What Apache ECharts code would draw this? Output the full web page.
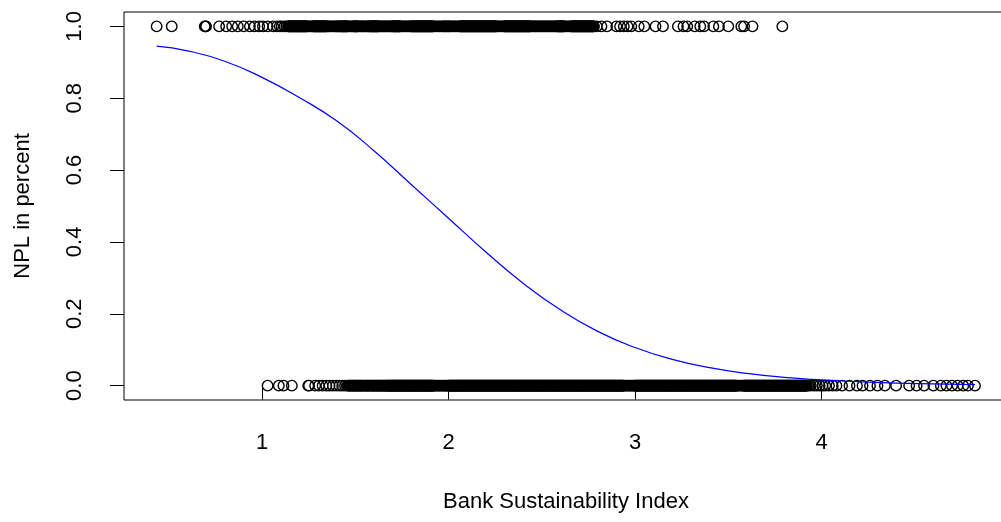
<!DOCTYPE html>
<html>
<head>
<meta charset="utf-8">
<script src="https://cdn.jsdelivr.net/npm/echarts@6/dist/echarts.min.js"></script>
<style>
html,body{margin:0;padding:0;background:#fff;overflow:hidden;}
#chart{width:1001px;height:522px;}
</style>
</head>
<body>
<div id="chart"></div>
<script>
// Bank Sustainability Index values of observations with NPL = 1
var bsiNpl1 = [
0.435,0.516,0.693,0.697,0.700,0.770,0.808,0.840,0.870,0.902,0.935,0.960,0.985,1.005,1.030,1.060,1.080,1.095,1.105,1.120,1.130,
1.140,1.146,1.151,1.157,1.163,1.168,1.174,1.180,1.185,1.191,1.197,1.202,1.208,1.214,1.219,1.225,1.231,1.236,
1.248,1.262,
1.274,1.280,1.285,1.291,1.297,1.302,1.308,1.314,1.319,1.325,1.331,1.336,1.342,
1.355,1.368,1.376,1.390,1.402,1.410,1.418,
1.424,1.430,1.435,1.441,1.447,1.452,
1.465,1.478,
1.490,1.496,1.502,1.508,
1.520,1.533,1.541,1.555,1.566,1.574,
1.582,1.588,1.593,1.599,1.605,1.610,1.616,1.622,
1.635,1.648,1.657,1.670,1.682,1.693,
1.702,1.708,1.713,1.719,1.725,1.731,1.736,
1.748,1.762,1.775,1.789,
1.800,1.806,1.811,1.817,1.823,1.828,1.834,1.840,1.845,1.851,1.857,1.862,1.868,1.874,1.879,1.885,1.891,1.896,1.902,1.908,1.913,
1.928,1.945,1.962,1.975,1.985,1.996,2.005,2.018,2.032,2.047,
2.060,2.066,2.071,2.077,2.083,2.088,2.094,2.100,2.105,2.111,2.117,2.122,2.128,2.134,2.139,2.145,2.151,2.156,2.162,2.168,2.173,2.179,2.185,2.190,2.196,2.202,2.207,2.213,2.219,2.224,2.230,2.236,2.241,2.247,2.253,
2.268,2.284,
2.298,2.304,2.309,2.315,2.321,2.326,2.332,2.338,2.343,2.349,2.355,2.360,2.366,2.372,2.377,2.383,2.389,2.394,2.400,2.406,2.411,2.417,2.423,2.428,2.434,
2.447,2.460,2.470,2.483,2.495,2.507,2.520,2.532,2.545,2.556,2.568,
2.580,2.586,2.591,2.597,2.603,2.608,2.614,
2.628,2.645,
2.658,2.664,2.669,2.675,2.681,2.686,2.692,2.698,2.703,2.709,2.715,2.720,2.726,2.732,2.737,2.743,2.749,2.754,2.760,2.766,2.771,2.777,
2.795,2.820,2.850,2.900,2.920,2.940,2.960,2.980,3.020,3.050,3.110,3.150,3.230,3.260,3.280,3.320,3.350,3.370,3.420,3.450,3.500,3.570,3.585,3.630,3.790
];
// further NPL = 1 observations packed inside the solid black stretches
var bsiNpl1Dense = [
1.143,1.149,1.154,1.160,1.166,1.171,1.177,1.183,1.188,1.194,1.200,1.205,1.211,1.217,1.222,1.228,1.234,1.239,
1.242,1.255,1.268,
1.277,1.283,1.288,1.294,1.300,1.305,1.311,1.317,1.322,1.328,1.334,1.339,1.345,
1.349,1.361,1.383,1.396,1.406,1.414,
1.427,1.433,1.438,1.444,1.450,1.455,
1.458,1.471,1.484,
1.493,1.499,1.505,1.511,
1.514,1.527,1.537,1.548,1.560,1.570,1.578,
1.585,1.591,1.596,1.602,1.608,1.613,1.619,1.625,
1.629,1.641,1.652,1.663,1.676,1.688,1.697,
1.705,1.711,1.716,1.722,1.728,1.734,1.739,
1.742,1.755,1.768,1.782,1.795,
1.803,1.809,1.814,1.820,1.826,1.831,1.837,1.843,1.848,1.854,1.860,1.865,1.871,1.877,1.882,1.888,1.894,1.899,1.905,1.911,1.916,
1.920,1.936,1.953,1.968,1.980,1.990,2.000,2.011,2.025,2.039,2.054,
2.063,2.069,2.074,2.080,2.086,2.091,2.097,2.103,2.108,2.114,2.120,2.125,2.131,2.137,2.142,2.148,2.154,2.159,2.165,2.171,2.176,2.182,2.188,2.193,2.199,2.205,2.210,2.216,2.222,2.227,2.233,2.239,2.244,2.250,2.256,
2.261,2.276,2.291,
2.301,2.307,2.312,2.318,2.324,2.329,2.335,2.341,2.346,2.352,2.358,2.363,2.369,2.375,2.380,2.386,2.392,2.397,2.403,2.409,2.414,2.420,2.426,2.431,2.437,
2.440,2.453,2.465,2.476,2.489,2.501,2.513,2.526,2.538,2.550,2.562,2.574,
2.583,2.589,2.594,2.600,2.606,2.611,2.617,
2.621,2.636,2.652,
2.661,2.667,2.672,2.678,2.684,2.689,2.695,2.701,2.706,2.712,2.718,2.723,2.729,2.735,2.740,2.746,2.752,2.757,2.763,2.769,2.774,2.780
];

// Bank Sustainability Index values of observations with NPL = 0
var bsiNpl0 = [
1.030,1.090,1.115,1.160,1.248,1.252,1.285,1.305,1.325,1.345,1.362,1.380,1.398,1.415,1.430,1.445,
1.458,1.468,1.476,1.487,1.495,1.503,1.514,1.522,1.531,1.540,1.552,1.560,1.569,1.578,1.590,1.598,1.606,1.615,1.624,1.633,1.642,1.650,1.658,1.666,1.674,1.681,1.687,
1.693,1.699,1.704,1.710,1.716,1.721,1.727,1.733,1.738,1.744,1.750,1.755,1.761,1.767,1.772,1.778,1.784,1.789,1.795,1.801,1.806,1.812,1.818,1.823,1.829,1.835,1.840,1.846,1.852,1.857,1.863,1.869,1.874,1.880,1.886,1.891,1.897,1.903,1.908,1.914,
1.926,1.940,1.952,1.966,1.978,1.990,
2.000,2.006,2.011,2.017,2.023,2.028,2.034,2.040,2.045,2.051,2.057,2.062,2.068,2.074,2.079,2.085,2.091,2.096,2.102,2.108,2.113,2.119,2.125,2.130,2.136,2.142,2.147,2.153,2.159,2.164,2.170,2.176,2.181,2.187,2.193,2.198,2.204,2.210,2.215,2.221,2.227,2.232,2.238,2.244,2.249,2.255,2.261,2.266,2.272,2.278,2.283,2.289,2.295,2.300,2.306,2.312,2.317,2.323,2.329,2.334,2.340,2.346,2.351,2.357,2.363,2.368,2.374,2.380,2.385,2.391,2.397,2.402,2.408,2.414,2.419,2.425,2.431,2.436,2.442,2.448,2.453,2.459,2.465,2.470,2.476,2.482,2.487,2.493,2.499,2.504,2.510,2.516,2.521,2.527,2.533,2.538,2.544,2.550,2.555,2.561,2.567,2.572,2.578,2.584,2.589,2.595,2.601,2.606,2.612,2.618,2.623,2.629,2.635,2.640,2.646,2.652,2.657,2.663,2.669,2.674,2.680,2.686,2.691,2.697,2.703,2.708,2.714,2.720,2.725,2.731,2.737,2.742,2.748,2.754,2.759,2.765,2.771,2.776,2.782,2.788,2.793,2.799,2.805,2.810,2.816,2.822,2.827,2.833,2.839,2.844,2.850,2.856,2.861,2.867,2.873,2.878,2.884,2.890,2.895,2.901,2.907,2.912,2.918,2.924,2.929,2.935,
2.950,2.965,2.978,2.992,
3.003,3.009,3.014,3.020,3.026,3.031,3.037,3.043,3.048,3.054,3.060,3.065,3.071,3.077,3.082,3.088,3.094,3.099,3.105,3.111,3.116,3.122,3.128,3.133,3.139,3.145,3.150,3.156,3.162,3.167,3.173,3.179,3.184,3.190,3.196,3.201,3.207,3.213,3.218,3.224,3.230,3.235,3.241,3.247,3.252,3.258,3.264,3.269,3.275,3.281,3.286,3.292,3.298,3.303,3.309,3.315,3.320,3.326,3.332,3.337,3.343,3.349,3.354,3.360,3.366,3.371,3.377,3.383,3.388,3.394,3.400,3.405,3.411,3.417,3.422,3.428,3.434,3.439,3.445,3.451,3.456,3.462,3.468,3.473,3.479,3.485,3.490,3.496,3.502,3.507,3.513,3.519,3.524,3.530,3.536,3.541,
3.556,3.572,
3.584,3.590,3.595,3.601,3.607,3.612,3.618,3.624,3.629,3.635,3.641,3.646,3.652,3.658,3.663,3.669,3.675,3.680,3.686,3.692,3.697,3.703,3.709,3.714,3.720,3.726,3.731,3.737,3.743,3.748,3.754,3.760,3.765,3.771,3.777,3.782,3.788,3.794,3.799,3.805,3.811,3.816,3.822,3.828,3.833,3.839,3.845,3.850,3.856,3.862,3.867,3.873,3.879,3.884,3.890,3.896,3.901,3.907,3.913,3.918,
3.930,3.942,3.960,3.975,3.990,4.005,4.020,4.040,4.060,4.080,4.110,4.150,4.190,4.220,4.260,4.300,4.340,4.400,4.470,4.510,4.550,4.600,4.640,4.670,4.700,4.730,4.760,4.785,4.823
];
// further NPL = 0 observations packed inside the solid black stretches
var bsiNpl0Dense = [
1.463,1.472,1.482,1.491,1.499,1.509,1.518,1.527,1.536,1.546,1.556,1.565,1.574,1.584,1.594,1.602,1.611,1.620,1.629,1.638,1.646,1.654,1.662,1.670,1.678,1.684,1.690,
1.696,1.702,1.707,1.713,1.719,1.724,1.730,1.736,1.741,1.747,1.753,1.758,1.764,1.770,1.775,1.781,1.787,1.792,1.798,1.804,1.809,1.815,1.821,1.826,1.832,1.838,1.843,1.849,1.855,1.860,1.866,1.872,1.877,1.883,1.889,1.894,1.900,1.906,1.911,1.917,
1.920,1.933,1.946,1.959,1.972,1.984,1.995,
2.003,2.009,2.014,2.020,2.026,2.031,2.037,2.043,2.048,2.054,2.060,2.065,2.071,2.077,2.082,2.088,2.094,2.099,2.105,2.111,2.116,2.122,2.128,2.133,2.139,2.145,2.150,2.156,2.162,2.167,2.173,2.179,2.184,2.190,2.196,2.201,2.207,2.213,2.218,2.224,2.230,2.235,2.241,2.247,2.252,2.258,2.264,2.269,2.275,2.281,2.286,2.292,2.298,2.303,2.309,2.315,2.320,2.326,2.332,2.337,2.343,2.349,2.354,2.360,2.366,2.371,2.377,2.383,2.388,2.394,2.400,2.405,2.411,2.417,2.422,2.428,2.434,2.439,2.445,2.451,2.456,2.462,2.468,2.473,2.479,2.485,2.490,2.496,2.502,2.507,2.513,2.519,2.524,2.530,2.536,2.541,2.547,2.553,2.558,2.564,2.570,2.575,2.581,2.587,2.592,2.598,2.604,2.609,2.615,2.621,2.626,2.632,2.638,2.643,2.649,2.655,2.660,2.666,2.672,2.677,2.683,2.689,2.694,2.700,2.706,2.711,2.717,2.723,2.728,2.734,2.740,2.745,2.751,2.757,2.762,2.768,2.774,2.779,2.785,2.791,2.796,2.802,2.808,2.813,2.819,2.825,2.830,2.836,2.842,2.847,2.853,2.859,2.864,2.870,2.876,2.881,2.887,2.893,2.898,2.904,2.910,2.915,2.921,2.927,2.932,2.938,
2.943,2.957,2.971,2.985,2.997,
3.006,3.012,3.017,3.023,3.029,3.034,3.040,3.046,3.051,3.057,3.063,3.068,3.074,3.080,3.085,3.091,3.097,3.102,3.108,3.114,3.119,3.125,3.131,3.136,3.142,3.148,3.153,3.159,3.165,3.170,3.176,3.182,3.187,3.193,3.199,3.204,3.210,3.216,3.221,3.227,3.233,3.238,3.244,3.250,3.255,3.261,3.267,3.272,3.278,3.284,3.289,3.295,3.301,3.306,3.312,3.318,3.323,3.329,3.335,3.340,3.346,3.352,3.357,3.363,3.369,3.374,3.380,3.386,3.391,3.397,3.403,3.408,3.414,3.420,3.425,3.431,3.437,3.442,3.448,3.454,3.459,3.465,3.471,3.476,3.482,3.488,3.493,3.499,3.505,3.510,3.516,3.522,3.527,3.533,3.539,3.544,
3.549,3.564,3.578,
3.587,3.593,3.598,3.604,3.610,3.615,3.621,3.627,3.632,3.638,3.644,3.649,3.655,3.661,3.666,3.672,3.678,3.683,3.689,3.695,3.700,3.706,3.712,3.717,3.723,3.729,3.734,3.740,3.746,3.751,3.757,3.763,3.768,3.774,3.780,3.785,3.791,3.797,3.802,3.808,3.814,3.819,3.825,3.831,3.836,3.842,3.848,3.853,3.859,3.865,3.870,3.876,3.882,3.887,3.893,3.899,3.904,3.910,3.916,3.921
];

// fitted curve
var curveX = [0.435,0.6,0.8,1.0,1.2,1.4,1.6,1.8,2.0,2.2,2.4,2.6,2.8,3.0,3.2,3.4,3.6,3.8,4.0,4.2,4.4,4.6,4.823];
var curveY = [0.945,0.932,0.903,0.858,0.802,0.737,0.654,0.560,0.466,0.372,0.285,0.211,0.151,0.106,0.073,0.050,0.034,0.023,0.016,0.011,0.007,0.005,0.003];

var xTicks = [1, 2, 3, 4];
var yTicks = [0, 0.2, 0.4, 0.6, 0.8, 1.0];

var chart = echarts.init(document.getElementById('chart'), null, {renderer: 'canvas'});
var font = 'Liberation Sans, Arial, Helvetica, sans-serif';

var pts = [];
bsiNpl1.concat(bsiNpl1Dense).forEach(function (v) { pts.push([v, 1]); });
bsiNpl0.concat(bsiNpl0Dense).forEach(function (v) { pts.push([v, 0]); });
var curve = curveX.map(function (x, i) { return [x, curveY[i]]; });

chart.setOption({
  animation: false,
  backgroundColor: '#fff',
  grid: {left: 124, top: 12, width: 884, height: 388, show: true, borderColor: '#000', borderWidth: 1,
         backgroundColor: 'transparent', outerBoundsMode: 'none', containLabel: false},
  xAxis: {
    type: 'value', min: 0.26, max: 5.0,
    axisLine: {show: false},
    splitLine: {show: false},
    axisTick: {show: true, inside: false, length: 14, customValues: xTicks, lineStyle: {color: '#000', width: 1}},
    axisLabel: {customValues: xTicks, margin: 32, color: '#000', fontSize: 22, fontFamily: font},
    name: 'Bank Sustainability Index', nameLocation: 'middle', nameGap: 91,
    nameTextStyle: {color: '#000', fontSize: 22, fontFamily: font}
  },
  yAxis: {
    type: 'value', min: -0.04, max: 1.04,
    axisLine: {show: false},
    splitLine: {show: false},
    axisTick: {show: true, inside: false, length: 14, customValues: yTicks, lineStyle: {color: '#000', width: 1}},
    axisLabel: {customValues: yTicks, rotate: 90, margin: 38, color: '#000', fontSize: 22, fontFamily: font,
      formatter: function (v) { return v.toFixed(1); }},
    name: 'NPL in percent', nameLocation: 'middle', nameGap: 90, nameRotate: 90,
    nameTextStyle: {color: '#000', fontSize: 22, fontFamily: font}
  },
  series: [
    {type: 'scatter', data: pts, symbol: 'circle', symbolSize: 10.5, large: false,
     itemStyle: {color: 'rgba(0,0,0,0)', borderColor: '#000', borderWidth: 1.4, opacity: 1},
     emphasis: {disabled: true}, silent: true, z: 2},
    {type: 'line', data: curve, smooth: true, showSymbol: false, symbol: 'none',
     lineStyle: {color: '#0000ff', width: 1.2}, emphasis: {disabled: true}, silent: true, z: 3}
  ]
});
</script>
</body>
</html>
